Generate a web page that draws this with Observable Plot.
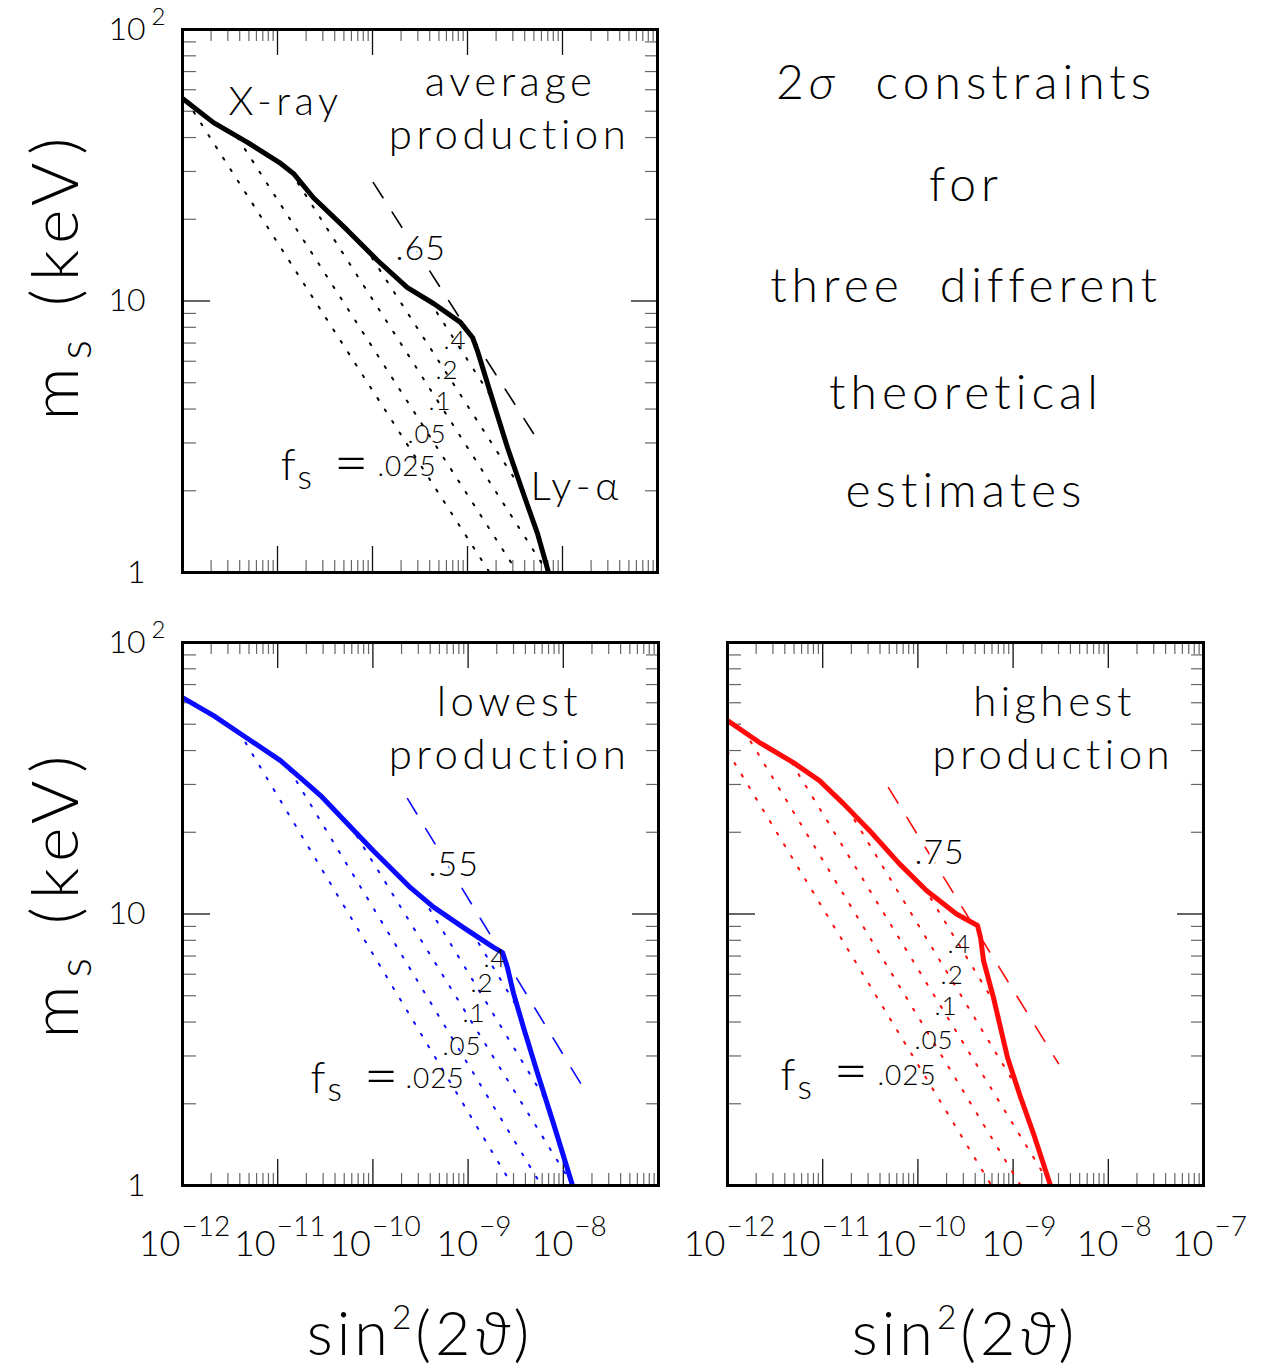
<!DOCTYPE html>
<html>
<head>
<meta charset="utf-8">
<script src="https://cdn.jsdelivr.net/npm/d3@7"></script>
<script src="https://cdn.jsdelivr.net/npm/@observablehq/plot@0.6"></script>
<style>
  html, body { margin: 0; padding: 0; background: #fff; }
  #root { position: relative; width: 1262px; height: 1372px; overflow: hidden; background: #fff;
          font-family: Lato, "Open Sans", "Noto Sans", "DejaVu Sans", sans-serif; font-weight: 300; color: #000; }
  .panel { position: absolute; }
  .lbl { position: absolute; white-space: pre; line-height: 1; transform: translate(-50%, -50%); }
  .ytitle { transform: translate(-50%, -50%) rotate(-90deg); font-size: 66px; letter-spacing: 8px; }
  .xtitle { font-size: 61px; letter-spacing: 4px; }
  .note { font-size: 48px; letter-spacing: 5px; }
  sub { font-size: 0.68em; vertical-align: -0.3em; line-height: 0; }
  sup { font-size: 0.55em; vertical-align: 0.75em; line-height: 0; }
</style>
</head>
<body>
<div id="root"></div>
<script>
// ---------------- data ----------------
const fsLevels = [0.025, 0.05, 0.1, 0.2, 0.4];
const fsLabels = [".025", ".05", ".1", ".2", ".4"];

// average production (black): [sin^2(2θ), m_s keV]
const avgSolid = [[1.0e-12,55.7],[2.12e-12,45.4],[4.83e-12,38.4],[1.08e-11,32.1],[1.47e-11,29.5],[2.39e-11,24.0],
  [5.46e-11,18.2],[1.13e-10,14.1],[2.33e-10,11.2],[4.39e-10,9.79],[8.43e-10,8.34],[1.13e-9,7.34],[1.27e-9,6.57],
  [1.75e-9,4.56],[2.64e-9,2.88],[3.88e-9,1.95],[5.46e-9,1.39],[7.13e-9,1.0]];
const avgDashed = [[1.02e-10,27.3],[4.95e-9,3.25]];
const avgDotted = [
  [[1.10e-12,54.7],[1.47e-11,13.3],[1.71e-9,1.0]],
  [[3.79e-12,40.0],[3.36e-9,1.0]],
  [[1.37e-11,30.0],[6.62e-9,1.03]],
  [[8.24e-11,15.9],[3.79e-9,2.00]],
  [[3.98e-10,10.0],[1.92e-9,4.26]]
];
const avgMax = ".65";

// lowest production (blue)
const lowSolid = [[1.0e-12,62.7],[2.12e-12,53.8],[4.82e-12,44.3],[1.07e-11,36.7],[1.87e-11,31.0],[2.82e-11,27.3],
  [5.41e-11,21.5],[1.01e-10,17.1],[2.48e-10,12.5],[4.34e-10,10.6],[8.95e-10,8.91],[1.85e-9,7.53],[2.30e-9,7.21],
  [2.59e-9,6.35],[3.00e-9,5.10],[3.82e-9,3.82],[5.36e-9,2.59],[7.89e-9,1.69],[1.25e-8,1.0]];
const lowDashed = [[2.31e-10,26.6],[1.84e-8,2.13]];
const lowDotted = [
  [[4.59e-12,42.8],[2.92e-9,1.0]],
  [[1.33e-11,34.0],[5.90e-9,1.0]],
  [[5.68e-11,21.4],[1.08e-8,1.09]],
  [[3.32e-10,11.5],[6.50e-9,2.07]],
  [[1.09e-9,8.62],[3.30e-9,4.52]]
];
const lowMax = ".55";

// highest production (red)
const highSolid = [[1.0e-12,51.6],[2.17e-12,42.8],[4.93e-12,36.1],[9.25e-12,31.0],[1.65e-11,25.5],[3.10e-11,20.3],
  [6.41e-11,15.3],[1.23e-10,12.2],[2.54e-10,10.0],[4.23e-10,9.07],[4.55e-10,8.19],[4.89e-10,6.74],[6.22e-10,4.92],
  [8.73e-10,2.96],[1.20e-9,2.11],[1.64e-9,1.55],[2.47e-9,1.0]];
const highDashed = [[4.91e-11,29.2],[3.00e-9,2.81]];
const highDotted = [
  [[1.0e-12,39.7],[5.93e-10,1.0]],
  [[1.75e-12,43.2],[1.20e-9,1.0]],
  [[4.70e-12,36.1],[2.24e-9,1.06]],
  [[1.82e-11,24.5],[1.11e-9,2.28]],
  [[1.15e-10,12.6],[6.53e-10,4.64]]
];
const highMax = ".75";

// tick labels
const yTickValues = [1, 10, 100];
const xExpsLeft = [-12, -11, -10, -9, -8];
const xExpsRight = [-12, -11, -10, -9, -8, -7];
const estimateLines = ["2σ  constraints", "for", "three  different", "theoretical", "estimates"];

// ---------------- annotation anchors (data coordinates) ----------------
const avgNotes = {
  words: [{s: 3.05e-12, m: 53.8, text: "X-ray", anchor: "start"}, {s: 4.6e-9, m: 2.06, text: "Ly-α", anchor: "start"},
          {s: 2.84e-9, m: 63.8, text: "average", anchor: "middle"}, {s: 2.77e-9, m: 40.7, text: "production", anchor: "middle"}],
  max: [1.75e-10, 15.5],
  fs: [[1.13e-10,2.44],[2.33e-10,3.22],[3.88e-10,4.26],[4.60e-10,5.55],[5.58e-10,7.15]],
  f: [[1.08e-11,2.48],[1.62e-11,2.22],[3.90e-11,2.52]]
};
const lowNotes = {
  words: [{s: 2.72e-9, m: 60.1, text: "lowest", anchor: "middle"}, {s: 2.72e-9, m: 38.4, text: "production", anchor: "middle"}],
  max: [3.84e-10, 15.1],
  fs: [[2.20e-10,2.46],[5.38e-10,3.25],[8.73e-10,4.30],[1.06e-9,5.55],[1.45e-9,6.86]],
  f: [[2.21e-11,2.46],[3.33e-11,2.24],[8.0e-11,2.52]]
};
const highNotes = {
  words: [{s: 2.72e-9, m: 60.1, text: "highest", anchor: "middle"}, {s: 2.65e-9, m: 38.4, text: "production", anchor: "middle"}],
  max: [9.2e-11, 16.7],
  fs: [[3.77e-11,2.54],[9.2e-11,3.42],[1.49e-10,4.56],[1.73e-10,5.94],[2.05e-10,7.72]],
  f: [[3.61e-12,2.54],[5.43e-12,2.28],[1.30e-11,2.63]]
};

// ---------------- drawing ----------------
const FONT = "Lato, 'Open Sans', 'Noto Sans', 'DejaVu Sans', sans-serif";
const root = document.getElementById("root");

function makePanel(cfg) {
  const {width, height, ml, mr, mt, mb, color, solid, dashed, dotted, maxLabel, notes, yLabels, xExps} = cfg;
  const innerW = width - ml - mr, innerH = height - mt - mb;
  const minorX = [], majorX = [];
  for (let e = -12; e < -7; e++) {
    for (let k = 2; k <= 9; k++) minorX.push(k * Math.pow(10, e));
    if (e > -12) majorX.push(Math.pow(10, e));
  }
  const minorY = [2,3,4,5,6,7,8,9,20,30,40,50,60,70,80,90];
  const majorY = [10];
  const dottedRows = dotted.flatMap((pts, i) => pts.map(([s, m]) => ({s, m, f: fsLevels[i]})));
  const fsRows = notes.fs.map(([s, m], i) => ({s, m, text: fsLabels[i], size: i === 0 ? 28 : 26}));
  const fRows = notes.f.map(([s, m], i) => ({s, m, text: ["f", "s", "="][i], size: [44, 34, 60][i]}));
  const tickMinor = {stroke: "#666", strokeWidth: 1.2};
  const tickMajor = {stroke: "#111", strokeWidth: 1.3};
  const txt = {fill: "#000", fontWeight: 300};

  const marks = [
    Plot.tickX(minorX, {x: d => d, insetTop: innerH - 12, ...tickMinor}),
    Plot.tickX(minorX, {x: d => d, insetBottom: innerH - 12, ...tickMinor}),
    Plot.tickX(majorX, {x: d => d, insetTop: innerH - 26, ...tickMajor}),
    Plot.tickX(majorX, {x: d => d, insetBottom: innerH - 26, ...tickMajor}),
    Plot.tickY(minorY, {y: d => d, insetRight: innerW - 14, ...tickMinor}),
    Plot.tickY(minorY, {y: d => d, insetLeft: innerW - 12, ...tickMinor}),
    Plot.tickY(majorY, {y: d => d, insetRight: innerW - 28, ...tickMajor}),
    Plot.tickY(majorY, {y: d => d, insetLeft: innerW - 26, ...tickMajor}),
    Plot.line(dottedRows, {x: "s", y: "m", z: "f", stroke: color, strokeWidth: 2, strokeDasharray: "2,11.6", clip: true}),
    Plot.line(dashed, {x: d => d[0], y: d => d[1], stroke: color, strokeWidth: 1.6, strokeDasharray: "18,17", clip: true}),
    Plot.line(solid, {x: d => d[0], y: d => d[1], stroke: color, strokeWidth: 5, strokeLinejoin: "round", clip: true}),
    Plot.text(notes.words.filter(d => d.anchor === "start"), {x: "s", y: "m", text: "text", textAnchor: "start", fontSize: 40, ...txt}),
    Plot.text(notes.words.filter(d => d.anchor === "middle"), {x: "s", y: "m", text: "text", textAnchor: "middle", fontSize: 42, ...txt}),
    Plot.text([notes.max], {x: d => d[0], y: d => d[1], text: () => maxLabel, textAnchor: "start", fontSize: 34,
      stroke: "#fff", strokeWidth: 7, ...txt}),
    Plot.text(fsRows, {x: "s", y: "m", text: "text", fontSize: d => d.size, textAnchor: "start", ...txt}),
    Plot.text(fRows, {x: "s", y: "m", text: "text", fontSize: d => d.size, textAnchor: "start", ...txt}),
    Plot.frame({stroke: "#000", strokeWidth: 3})
  ];
  if (yLabels) {
    marks.push(
      Plot.text(yTickValues, {y: d => d, frameAnchor: "left", textAnchor: "end", dx: -37,
        text: d => d === 100 ? "10" : String(d), fontSize: 32, ...txt}),
      Plot.text(yTickValues.filter(d => d === 100), {y: d => d, frameAnchor: "left", textAnchor: "start", dx: -31, dy: -12,
        text: () => "2", fontSize: 24, ...txt})
    );
  }
  if (xExps) {
    const two = xExps.filter(e => e <= -10), one = xExps.filter(e => e > -10);
    marks.push(
      Plot.text(two, {x: e => Math.pow(10, e), frameAnchor: "bottom", dy: 70, dx: -2, textAnchor: "end", text: () => "10", fontSize: 36, ...txt}),
      Plot.text(one, {x: e => Math.pow(10, e), frameAnchor: "bottom", dy: 70, dx: 10, textAnchor: "end", text: () => "10", fontSize: 36, ...txt}),
      Plot.text(two, {x: e => Math.pow(10, e), frameAnchor: "bottom", dy: 50, dx: -1, textAnchor: "start", text: e => "\u2212" + Math.abs(e), fontSize: 28, ...txt}),
      Plot.text(one, {x: e => Math.pow(10, e), frameAnchor: "bottom", dy: 50, dx: 11, textAnchor: "start", text: e => "\u2212" + Math.abs(e), fontSize: 28, ...txt})
    );
  }
  const svg = Plot.plot({
    width, height,
    marginLeft: ml, marginRight: mr, marginTop: mt, marginBottom: mb,
    x: {type: "log", domain: [1e-12, 1e-7], axis: null},
    y: {type: "log", domain: [1, 100], axis: null},
    style: {background: "transparent", overflow: "visible", fontFamily: FONT},
    marks
  });
  // wider tracking for the word annotations, as in the original lettering
  const words = new Set(notes.words.map(d => d.text));
  d3.select(svg).selectAll("text").filter(function() { return words.has(this.textContent); })
    .attr("letter-spacing", "4.5px");
  d3.select(svg).selectAll("text").filter(function() { return fsLabels.includes(this.textContent) || this.textContent === maxLabel; })
    .attr("letter-spacing", "1px");
  const holder = document.createElement("div");
  holder.className = "panel";
  holder.style.left = cfg.left + "px";
  holder.style.top = cfg.top + "px";
  holder.appendChild(svg);
  root.appendChild(holder);
}

makePanel({left: 0, top: 0, width: 700, height: 600, ml: 182, mr: 43, mt: 29, mb: 28, color: "#000",
  solid: avgSolid, dashed: avgDashed, dotted: avgDotted, maxLabel: avgMax, notes: avgNotes, yLabels: true, xExps: null});
makePanel({left: 0, top: 612, width: 700, height: 680, ml: 182, mr: 42, mt: 30, mb: 107, color: "#0a0aff",
  solid: lowSolid, dashed: lowDashed, dotted: lowDotted, maxLabel: lowMax, notes: lowNotes, yLabels: true, xExps: xExpsLeft});
makePanel({left: 545, top: 612, width: 717, height: 680, ml: 182, mr: 59, mt: 30, mb: 107, color: "#ff0a0a",
  solid: highSolid, dashed: highDashed, dotted: highDotted, maxLabel: highMax, notes: highNotes, yLabels: false, xExps: xExpsRight});

// axis titles and side note (HTML text)
function addLabel(html, cls, x, y) {
  const d = document.createElement("div");
  d.className = "lbl " + cls;
  d.style.left = x + "px";
  d.style.top = y + "px";
  d.innerHTML = html;
  root.appendChild(d);
}
addLabel("m<sub>s</sub> (keV)", "ytitle", 53, 275);
addLabel("m<sub>s</sub> (keV)", "ytitle", 53, 893);
addLabel("sin<sup>2</sup>(2<i>ϑ</i>)", "xtitle", 420, 1331);
addLabel("sin<sup>2</sup>(2<i>ϑ</i>)", "xtitle", 965, 1331);
const noteY = [81, 183, 284, 391, 489];
estimateLines.forEach((t, i) => addLabel(t.replace("σ", "<i>σ</i>"), "note", 966, noteY[i]));
</script>
</body>
</html>
